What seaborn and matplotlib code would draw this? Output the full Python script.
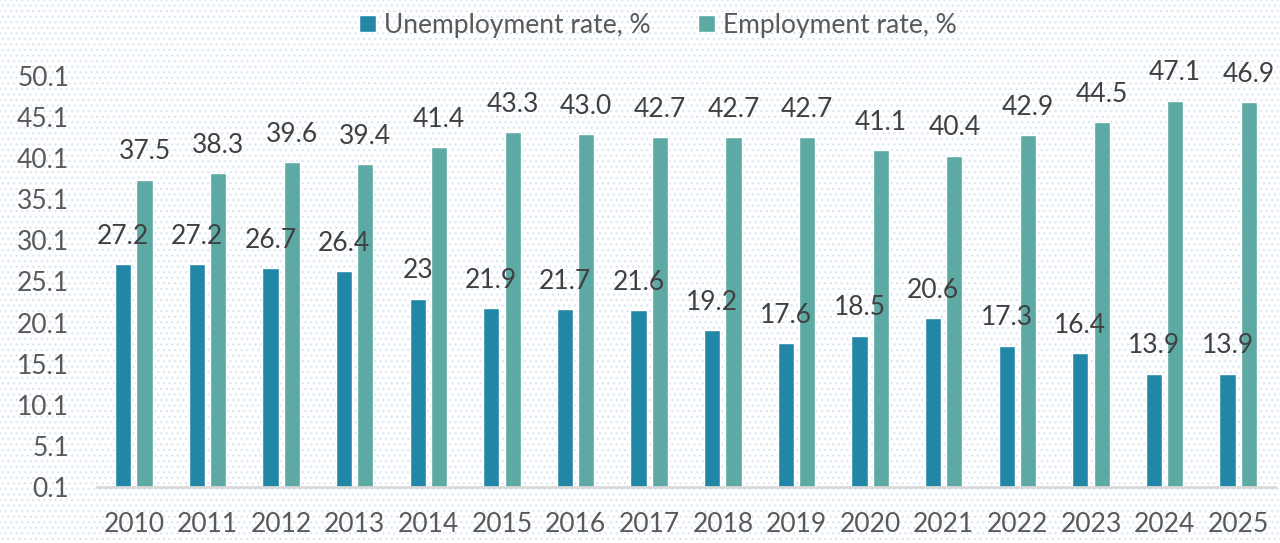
import numpy as np
import pandas as pd
import matplotlib.pyplot as plt
import seaborn as sns

# 数据
years = ['2010', '2011', '2012', '2013', '2014', '2015', '2016', '2017',
         '2018', '2019', '2020', '2021', '2022', '2023', '2024', '2025']
unemployment = [27.2, 27.2, 26.7, 26.4, 23, 21.9, 21.7, 21.6,
                19.2, 17.6, 18.5, 20.6, 17.3, 16.4, 13.9, 13.9]
employment = [37.5, 38.3, 39.6, 39.4, 41.4, 43.3, 43.0, 42.7,
              42.7, 42.7, 41.1, 40.4, 42.9, 44.5, 47.1, 46.9]
series_names = ['Unemployment rate, %', 'Employment rate, %']
y_ticks = [0.1, 5.1, 10.1, 15.1, 20.1, 25.1, 30.1, 35.1, 40.1, 45.1, 50.1]

colors = ['#2287A6', '#5DA9A4']

data = pd.DataFrame({
    'year': years * 2,
    'value': unemployment + employment,
    'series': [series_names[0]] * len(years) + [series_names[1]] * len(years),
})

sns.set_theme(style='white')
plt.rcParams['font.family'] = ['Lato', 'DejaVu Sans']
plt.rcParams['hatch.color'] = '#DCE8F4'
plt.rcParams['hatch.linewidth'] = 1.0

fig = plt.figure(figsize=(12.8, 5.43), dpi=100)
fig.patch.set_facecolor('white')
fig.patch.set_hatch('...')
fig.patch.set_edgecolor('#DCE8F4')
fig.patch.set_linewidth(0)

ax = fig.add_axes([0.0758, 0.1031, 0.9203, 0.757])
ax.set_facecolor('none')

sns.barplot(data=data, x='year', y='value', hue='series', palette=colors,
            width=0.58, gap=0.24, ax=ax, legend=True, saturation=1)

# 数据标签
ax.bar_label(ax.containers[0], labels=[f'{v:g}' for v in unemployment],
             padding=11, fontsize=19, color='#404040', clip_on=False)
ax.bar_label(ax.containers[1], labels=[f'{v:.1f}' for v in employment],
             padding=11, fontsize=19, color='#404040', clip_on=False)

ax.set_ylim(0.1, 50.1)
ax.set_xlim(-0.5, 15.5)
ax.set_yticks(y_ticks)
ax.set_yticklabels([f'{t:.1f}' for t in y_ticks])
ax.set_xlabel('')
ax.set_ylabel('')
ax.tick_params(axis='y', length=0, pad=20, labelsize=19, labelcolor='#595959')
ax.tick_params(axis='x', length=0, pad=18, labelsize=19, labelcolor='#595959')

for s in ['top', 'right', 'left']:
    ax.spines[s].set_visible(False)
ax.spines['bottom'].set_color('#D9D9D9')
ax.spines['bottom'].set_linewidth(2)

handles, labels = ax.get_legend_handles_labels()
ax.get_legend().remove()
fig.legend(handles, labels, loc='upper center', bbox_to_anchor=(0.514, 1.02),
           ncol=2, frameon=False, fontsize=19, labelcolor='#595959',
           handlelength=0.65, handleheight=0.65, handletextpad=0.3,
           columnspacing=1.8)

plt.savefig('out.png', dpi=100)
